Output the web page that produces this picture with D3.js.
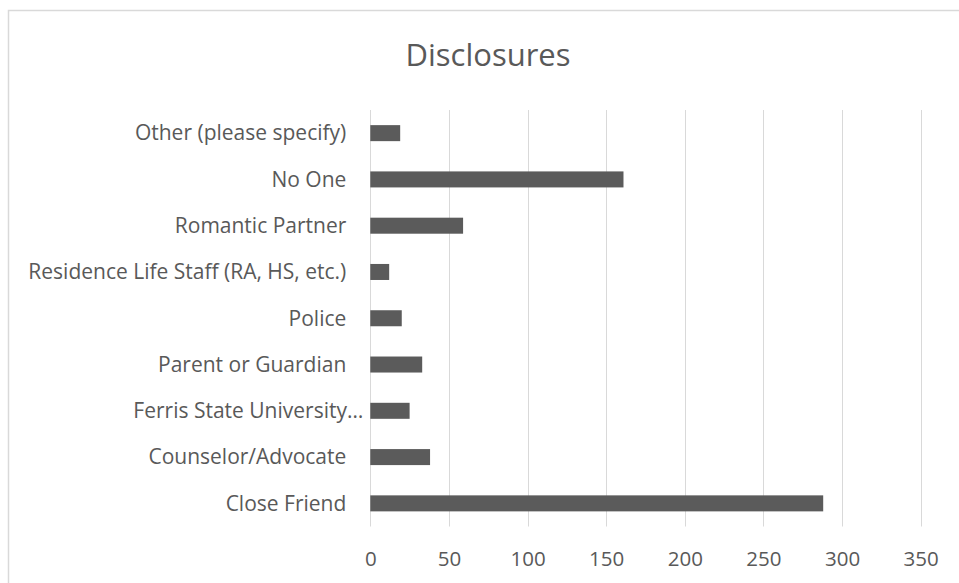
<!DOCTYPE html>
<html>
<head>
<meta charset="utf-8">
<script src="https://cdn.jsdelivr.net/npm/d3@7/dist/d3.min.js"></script>
<style>
  html, body { margin: 0; padding: 0; background: #fff; }
  svg { display: block; }
  text { font-family: "Open Sans", "Noto Sans", sans-serif; fill: #595959; }
</style>
</head>
<body>
<svg id="chart" width="959" height="583"></svg>
<script>
// Who respondents disclosed to (listed top to bottom)
const categories = [
  "Other (please specify)",
  "No One",
  "Romantic Partner",
  "Residence Life Staff (RA, HS, etc.)",
  "Police",
  "Parent or Guardian",
  "Ferris State University\u2026",
  "Counselor/Advocate",
  "Close Friend"
];
const counts = [19, 161, 59, 12, 20, 33, 25, 38, 288];
const xTicks = [0, 50, 100, 150, 200, 250, 300, 350];
const chartTitle = "Disclosures";

const data = categories.map((c, i) => ({ category: c, value: counts[i] }));

const svg = d3.select("#chart");
const W = 959, H = 583;
const plot = { left: 370.3, right: 920.7, top: 110, bottom: 526.5 };

// Chart area frame (extends past the visible page on right and bottom)
svg.append("rect")
  .attr("x", 8.5).attr("y", 10.5)
  .attr("width", W + 20).attr("height", H + 20)
  .attr("fill", "#fff")
  .attr("stroke", "#d9d9d9")
  .attr("stroke-width", 1.5);

const x = d3.scaleLinear().domain([0, 350]).range([plot.left, plot.right]);
const y = d3.scaleBand().domain(categories)
  .range([plot.top, plot.bottom])
  .paddingInner(0.654).paddingOuter(0.327);

// Vertical gridlines
svg.append("g")
  .selectAll("line")
  .data(xTicks)
  .join("line")
  .attr("x1", d => Math.round(x(d)) + 0.5)
  .attr("x2", d => Math.round(x(d)) + 0.5)
  .attr("y1", plot.top)
  .attr("y2", plot.bottom)
  .attr("stroke", "#d9d9d9")
  .attr("stroke-width", 1);

// Bars
svg.append("g")
  .selectAll("rect")
  .data(data)
  .join("rect")
  .attr("x", x(0))
  .attr("y", d => y(d.category))
  .attr("width", d => x(d.value) - x(0))
  .attr("height", y.bandwidth())
  .attr("fill", "#5b5b5b");

// Value axis labels
const xAxis = d3.axisBottom(x).tickValues(xTicks).tickSize(0).tickPadding(0);
const gx = svg.append("g")
  .attr("transform", `translate(0, ${plot.bottom + 39})`)
  .call(xAxis);
gx.select(".domain").remove();
gx.selectAll("text")
  .attr("dy", "0")
  .style("font-size", "20.5px")
  .style("fill", "#595959")
  .style("font-family", "'Open Sans', sans-serif");

// Category labels
const yAxis = d3.axisLeft(y).tickSize(0).tickPadding(0);
const gy = svg.append("g")
  .attr("transform", `translate(${plot.left - 24}, 0)`)
  .call(yAxis);
gy.select(".domain").remove();
gy.selectAll("text")
  .attr("dy", "0.35em")
  .style("font-size", "21px")
  .style("fill", "#595959")
  .style("font-family", "'Open Sans', sans-serif");
// The truncated label's ellipsis sits closer to the axis
gy.selectAll(".tick")
  .filter(d => d.endsWith("\u2026"))
  .select("text")
  .attr("x", 17);

// Title
svg.append("text")
  .attr("x", 488)
  .attr("y", 66)
  .attr("text-anchor", "middle")
  .style("font-size", "31px")
  .style("fill", "#595959")
  .text(chartTitle);
</script>
</body>
</html>
